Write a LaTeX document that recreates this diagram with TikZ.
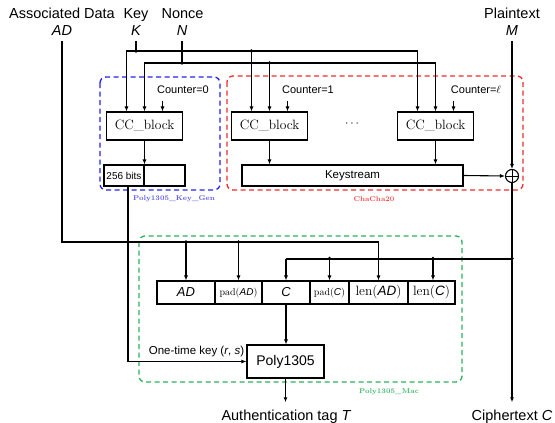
\documentclass[tikz,border=0pt]{standalone}
\usepackage{fontspec}
\newfontfamily\sansfont{Liberation Sans}
\usetikzlibrary{arrows.meta}

\definecolor{kgblue}{RGB}{35,35,235}
\definecolor{ccred}{RGB}{238,45,45}
\definecolor{macgreen}{RGB}{40,178,90}

\newcommand\vsym[1]{{\sansfont\itshape #1}}
\newcommand\fsz[1]{\fontsize{#1}{#1}\selectfont}

\begin{document}
\begin{tikzpicture}[x=1pt,y=-1pt,
  lbl/.style={font=\sansfont\fsz{14.5}, inner sep=0pt, anchor=base},
  sym/.style={lbl, inner ysep=6pt, text depth=0pt},
  blk/.style={draw, line width=1.1pt, inner sep=0pt, minimum height=28pt, minimum width=76pt, font=\fsz{13.5}},
  cell/.style={draw, line width=1.1pt, inner sep=0pt, minimum height=23pt},
  wire/.style={line width=1.1pt},
  arr/.style={wire, -{Latex[length=5pt,width=4pt]}},
  bus/.style={line width=2pt},
  dot/.style={circle, fill, inner sep=0pt, minimum size=3.6pt},
  small/.style={font=\sansfont\fsz{11}, inner sep=0pt},
  grp/.style={line width=1.3pt, rounded corners=6pt, dash pattern=on 5pt off 3.5pt},
  grptag/.style={font=\fsz{7}\bfseries, inner sep=0pt},
  xorop/.style={circle, draw, line width=1.1pt, minimum size=13pt, inner sep=0pt,
    path picture={\draw[line width=1pt]
      (path picture bounding box.north) -- (path picture bounding box.south)
      (path picture bounding box.west) -- (path picture bounding box.east);}},
]
\useasboundingbox (0,0) rectangle (555,423);

% inputs
\node[lbl] (adlab) at (62,19) {Associated Data};
\node[sym] (ad) at (62,35) {\vsym{AD}};
\node[lbl] (keylab) at (136,19) {Key};
\node[sym] (key) at (136,35) {\vsym{K}};
\node[lbl] (nlab) at (182.5,19) {Nonce};
\node[sym] (nonce) at (182,35) {\vsym{N}};
\node[lbl] (mlab) at (512,19) {Plaintext};
\node[sym] (msg) at (512,35) {\vsym{M}};

% group frames
\draw[grp, kgblue] (100,77) rectangle (220,190);
\draw[grp, ccred] (227,76) rectangle (523,190);
\draw[grp, macgreen] (139,236) rectangle (462,382);
\node[grptag, text=kgblue!75] (kgtag) at (174,199) {Poly1305\_Key\_Gen};
\node[grptag, text=ccred!85] (cctag) at (374,199) {ChaCha20};
\node[grptag, text=macgreen!90] (mactag) at (389,392) {Poly1305\_Mac};

% ChaCha20 blocks
\node[blk] (cc1) at (144.5,126) {CC\_block};
\node[blk] (cc2) at (269.5,126) {CC\_block};
\node[blk] (cc3) at (435.5,126) {CC\_block};
\node[font=\fsz{13}] (dots) at (352,124) {$\cdots$};

\node[small] (c0) at (183,90) {Counter=0};
\node[small] (c1) at (308,90) {Counter=1};
\node[small] (cl) at (476,90) {Counter=$\ell$};
\foreach \b in {cc1,cc2,cc3}
  \draw[arr] ([xshift=18pt,yshift=10pt]\b.north) -- ([xshift=18pt]\b.north);

% key distribution
\node[dot] (kj) at (136,51) {};
\node[dot] (kj2) at (251.5,51) {};
\draw[wire] (key.south) -- (kj.center);
\draw[arr] (kj.center) -| ([xshift=-18pt]cc1.north);
\draw[arr] (kj.center) -| ([xshift=-18pt]cc3.north);
\draw[arr] (kj2.center) -- (kj2.center |- cc2.north);

% nonce distribution
\node[dot] (nj) at (182,63) {};
\node[dot] (nj2) at (269.5,63) {};
\draw[wire] (nonce.south) -- (nj.center);
\draw[arr] (nj.center) -| (cc1.north);
\draw[arr] (nj.center) -| (cc3.north);
\draw[arr] (nj2.center) -- (cc2.north);

% block outputs
\node[cell, minimum width=40pt, minimum height=21pt, font=\sansfont\fsz{10}] (kbits) at (124,175.5) {256 bits};
\node[cell, minimum width=41pt, minimum height=21pt] (krest) at (164.5,175.5) {};
\draw[arr] (cc1.south) -- (cc1.south |- krest.north);

\node[cell, minimum width=221pt, minimum height=21pt, font=\sansfont\fsz{11.5}] (ks) at (352.5,175.5) {Keystream};
\draw[arr] (cc2.south) -- (cc2.south |- ks.north);
\draw[arr] (cc3.south) -- (cc3.south |- ks.north);

% encryption
\node[xorop] (xor) at (512,176) {};
\draw[arr] (ks.east) -- (xor.west);
\draw[arr] (msg.south) -- (xor.north);

\node[dot] (cj) at (512,258.5) {};
\draw[bus] (xor.south) -- (cj.center);
\node[lbl, inner ysep=7pt] (ct) at (512,420) {Ciphertext \vsym{C}};
\draw[arr] (cj.center) -- (ct.north);

% MAC input blocks
\node[cell, minimum width=58pt, font=\sansfont\itshape\fsz{13}] (adbox) at (186,292.5) {AD};
\node[cell, minimum width=47pt, font=\fsz{10}] (padad) at (238.5,292.5) {pad(\vsym{AD})};
\node[cell, minimum width=48pt, font=\sansfont\itshape\fsz{13}] (cbox) at (286,292.5) {C};
\node[cell, minimum width=39pt, font=\fsz{10}] (padc) at (329.5,292.5) {pad(\vsym{C})};
\node[cell, minimum width=59pt, font=\fsz{13.5}] (lenad) at (378.5,292.5) {len(\vsym{AD})};
\node[cell, minimum width=47pt, font=\fsz{13.5}] (lenc) at (431.5,292.5) {len(\vsym{C})};

% associated data bus
\coordinate (adbus) at (0,242);
\draw[arr] (ad.south) |- (adbus -| lenad.north) -- (lenad.north);
\node[dot] (adj1) at (adbox.north |- adbus) {};
\node[dot] (adj2) at (padad.north |- adbus) {};
\draw[arr] (adj1.center) -- (adbox.north);
\draw[arr] (adj2.center) -- (padad.north);

% ciphertext bus
\draw[bus] (cj.center) -- (cbox.north |- cj.center);
\draw[arr] (cbox.north |- cj.center) -- (cbox.north);
\node[dot] (cj1) at (padc.north |- cj.center) {};
\node[dot] (cj2) at ([xshift=1.5pt]lenc.north |- cj.center) {};
\draw[arr] (cj1.center) -- (padc.north);
\draw[arr] (cj2.center) -- (cj2.center |- lenc.north);

% Poly1305
\node[blk, minimum width=77pt, minimum height=33pt, font=\sansfont\fsz{14}] (poly) at (285.5,361.5) {Poly1305};
\draw[arr] (cbox.south) -- (cbox.south |- poly.north);
\node[lbl, inner ysep=7pt] (tag) at (286,420) {Authentication tag \vsym{T}};
\draw[arr] (poly.south) -- (poly.south |- tag.north);

\draw[arr] ([xshift=4pt]kbits.south) |- (poly.west);
\node[lbl, font=\sansfont\fsz{11.5}] (otk) at (196.5,354) {One-time key (\vsym{r}, \vsym{s})};
\end{tikzpicture}
\end{document}
